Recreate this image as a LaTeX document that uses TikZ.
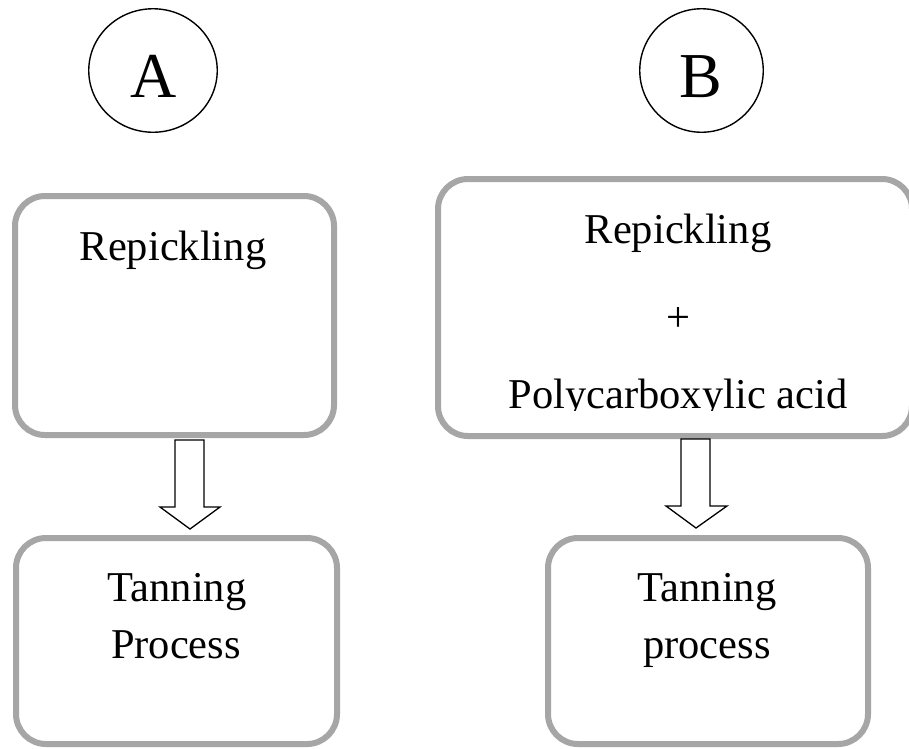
\documentclass[tikz,border=0pt]{standalone}
\usepackage{fontspec}
\setmainfont{Liberation Serif}
\usetikzlibrary{shapes.geometric}
\definecolor{boxgray}{HTML}{A6A6A6}
\tikzset{
  procbox/.style={draw=boxgray, line width=6pt, rounded corners=30pt, rectangle, inner sep=0pt, fill=white},
  labelcirc/.style={draw=black, line width=1.4pt, ellipse, inner sep=0pt},
  boxtext/.style={inner sep=0pt, anchor=base, font=\fontsize{42.5}{50}\selectfont},
  lettertext/.style={inner sep=0pt, anchor=base, font=\fontsize{64}{70}\selectfont},
  blockarrow/.style={draw=black, line width=1.3pt, fill=white, line join=miter}
}
\begin{document}
\begin{tikzpicture}[x=1pt,y=-1pt]
\useasboundingbox (0,0) rectangle (909,748);
\fill[white] (0,0) rectangle (909,748);

% circles
\node[labelcirc, minimum width=128.5pt, minimum height=123.5pt] (ca) at (153,70.5) {};
\node[labelcirc, minimum width=123.5pt, minimum height=123.5pt] (cb) at (701.5,70.5) {};
\node[lettertext] (la) at (154,97) {A};
\node[lettertext] (lb) at (701,97) {B};

% boxes
\node[procbox, minimum width=319pt, minimum height=239pt] (a1) at (174.5,315.5) {};
\node[procbox, minimum width=474pt, minimum height=257pt] (b1) at (675,307.5) {};
\node[procbox, minimum width=321pt, minimum height=206pt] (a2) at (176.5,641) {};
\node[procbox, minimum width=320pt, minimum height=206pt] (b2) at (708,641) {};

% texts
\node[boxtext] (ta1) at (173,260) {Repickling};
\node[boxtext] (tb1a) at (678,243) {Repickling};
\node[boxtext] (tb1b) at (678,331) {+};
\begin{scope}
\clip (440,0) rectangle (909,410);
\node[boxtext] (tb1c) at (678,408) {Polycarboxylic acid};
\end{scope}
\node[boxtext] (ta2a) at (177,601) {Tanning};
\node[boxtext] (ta2b) at (176,658) {Process};
\node[boxtext] (tb2a) at (707,601) {Tanning};
\node[boxtext] (tb2b) at (707,658) {process};

% block arrows
\draw[blockarrow] (175,440) -- (204,440) -- (204,507) -- (220,507) -- (190,529) -- (160,507) -- (175,507) -- cycle;
\draw[blockarrow] (681,439) -- (710,439) -- (710,506) -- (727,506) -- (696,528) -- (666,506) -- (681,506) -- cycle;
\end{tikzpicture}
\end{document}
